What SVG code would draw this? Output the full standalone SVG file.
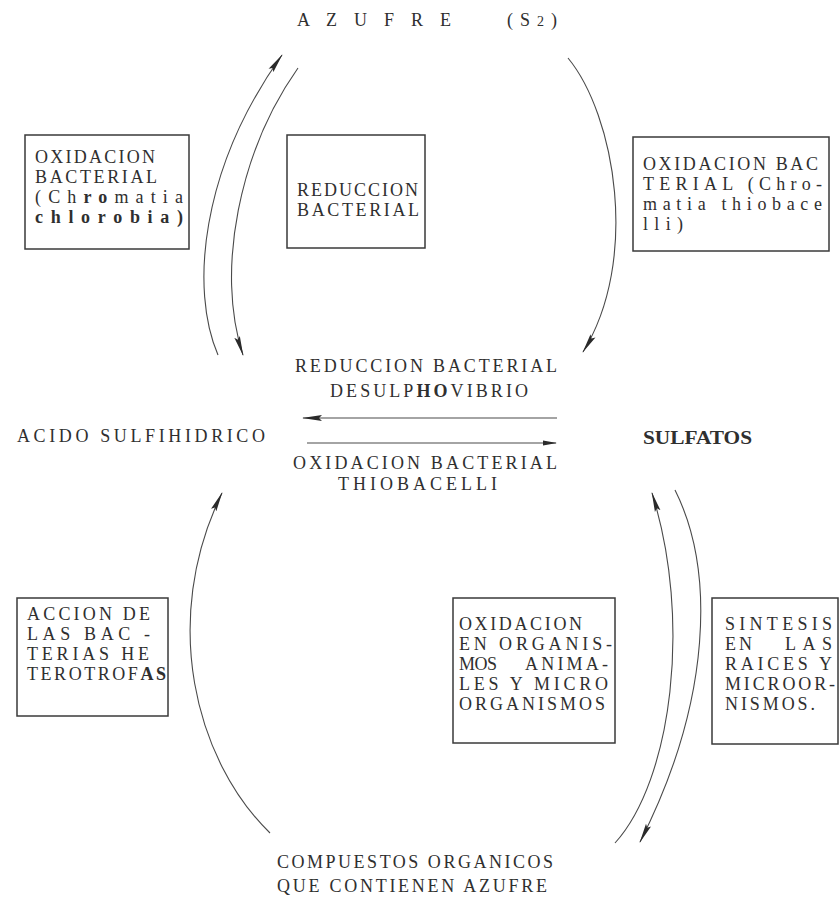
<svg xmlns="http://www.w3.org/2000/svg" width="840" height="911" viewBox="0 0 840 911">
  <style>
    .t { font-family: "Liberation Serif", "Times New Roman", serif; font-size: 18px; fill: #2f2f2f; }
    .b { font-weight: bold; }
    .box { fill: none; stroke: #3a3a3a; stroke-width: 1.5; }
    .arc { fill: none; stroke: #4a4a4a; stroke-width: 1.1; }
  </style>
  <defs>
    <marker id="head" viewBox="0 0 20 7" refX="19" refY="3.5" markerWidth="20" markerHeight="7" markerUnits="userSpaceOnUse" orient="auto">
      <path d="M0,0.6 L20,3.5 L0,6.4 L3,3.5 Z" fill="#2a2a2a"/>
    </marker>
    <marker id="tick" viewBox="0 0 14 6" refX="13" refY="3" markerWidth="14" markerHeight="6" markerUnits="userSpaceOnUse" orient="auto">
      <path d="M0,0.5 L14,3 L0,5.5 Z" fill="#2a2a2a"/>
    </marker>
  </defs>

  <!-- compounds -->
  <g id="azufre">
    <text class="t" x="297" y="26" textLength="154" lengthAdjust="spacing">A Z U F R E</text>
    <text class="t" x="507" y="26" textLength="50" lengthAdjust="spacing">(S<tspan font-size="14">2</tspan>)</text>
  </g>
  <g id="acido">
    <text class="t" x="17" y="442" textLength="248" lengthAdjust="spacing">ACIDO SULFIHIDRICO</text>
  </g>
  <g id="sulfatos">
    <text class="t b" x="643" y="444" textLength="109" lengthAdjust="spacingAndGlyphs">SULFATOS</text>
  </g>
  <g id="compuestos">
    <text class="t" x="277" y="868" textLength="276" lengthAdjust="spacing">COMPUESTOS ORGANICOS</text>
    <text class="t" x="277" y="892" textLength="270" lengthAdjust="spacing">QUE CONTIENEN AZUFRE</text>
  </g>

  <!-- process labels in boxes -->
  <g id="box-oxidacion-chlorobia">
    <rect class="box" x="25" y="135" width="164" height="114"/>
    <text class="t" x="35" y="163" textLength="120" lengthAdjust="spacing">OXIDACION</text>
    <text class="t" x="35" y="183" textLength="122" lengthAdjust="spacing">BACTERIAL</text>
    <text class="t" x="35" y="203" textLength="148" lengthAdjust="spacing">(Ch<tspan class="b">ro</tspan>matia</text>
    <text class="t b" x="35" y="223" textLength="148" lengthAdjust="spacing">chlorobia)</text>
  </g>
  <g id="box-reduccion">
    <rect class="box" x="287" y="135" width="138" height="113"/>
    <text class="t" x="297" y="196" textLength="121" lengthAdjust="spacing">REDUCCION</text>
    <text class="t" x="297" y="216" textLength="122" lengthAdjust="spacing">BACTERIAL</text>
  </g>
  <g id="box-oxidacion-thiobacelli">
    <rect class="box" x="633" y="137" width="196" height="114"/>
    <text class="t" x="643" y="170" textLength="175" lengthAdjust="spacing">OXIDACION BAC</text>
    <text class="t" x="643" y="190" textLength="179" lengthAdjust="spacing">TERIAL (Chro-</text>
    <text class="t" x="643" y="210" textLength="179" lengthAdjust="spacing">matia thiobace</text>
    <text class="t" x="643" y="230" textLength="40" lengthAdjust="spacing">lli)</text>
  </g>
  <g id="box-heterotrofas">
    <rect class="box" x="17" y="598" width="151" height="118"/>
    <text class="t" x="27" y="620" textLength="123" lengthAdjust="spacing">ACCION DE</text>
    <text class="t" x="27" y="640" textLength="123" lengthAdjust="spacing">LAS BAC -</text>
    <text class="t" x="27" y="660" textLength="122" lengthAdjust="spacing">TERIAS HE</text>
    <text class="t" x="27" y="680" textLength="139" lengthAdjust="spacing">TEROTROF<tspan class="b">AS</tspan></text>
  </g>
  <g id="box-oxidacion-organismos">
    <rect class="box" x="453" y="598" width="162" height="145"/>
    <text class="t" x="459" y="630" textLength="123" lengthAdjust="spacing">OXIDACION</text>
    <text class="t" x="459" y="650" textLength="153" lengthAdjust="spacing">EN ORGANIS-</text>
    <text class="t" x="459" y="670" textLength="38" lengthAdjust="spacing">MOS</text>
    <text class="t" x="525" y="670" textLength="83" lengthAdjust="spacing">ANIMA-</text>
    <text class="t" x="459" y="690" textLength="149" lengthAdjust="spacing">LES Y MICRO</text>
    <text class="t" x="459" y="710" textLength="146" lengthAdjust="spacing">ORGANISMOS</text>
  </g>
  <g id="box-sintesis">
    <rect class="box" x="712" y="598" width="126" height="146"/>
    <text class="t" x="725" y="630" textLength="107" lengthAdjust="spacing">SINTESIS</text>
    <text class="t" x="725" y="650" textLength="27" lengthAdjust="spacing">EN</text>
    <text class="t" x="785" y="650" textLength="47" lengthAdjust="spacing">LAS</text>
    <text class="t" x="725" y="670" textLength="107" lengthAdjust="spacing">RAICES Y</text>
    <text class="t" x="725" y="690" textLength="110" lengthAdjust="spacing">MICROOR-</text>
    <text class="t" x="725" y="710" textLength="90" lengthAdjust="spacing">NISMOS.</text>
  </g>

  <!-- labels of the horizontal exchange -->
  <g id="label-desulphovibrio">
    <text class="t" x="295" y="372" textLength="262" lengthAdjust="spacing">REDUCCION BACTERIAL</text>
    <text class="t" x="330" y="397" textLength="198" lengthAdjust="spacing">DESULP<tspan class="b">HO</tspan>VIBRIO</text>
  </g>
  <g id="label-thiobacelli">
    <text class="t" x="293" y="469" textLength="264" lengthAdjust="spacing">OXIDACION BACTERIAL</text>
    <text class="t" x="338" y="490" textLength="159" lengthAdjust="spacing">THIOBACELLI</text>
  </g>

  <!-- connectors -->
  <g id="connectors">
    <!-- sulfatos to acido sulfihidrico, and back -->
    <path class="arc" d="M557,418 L303,418" marker-end="url(#head)"/>
    <path class="arc" d="M307,443 L556,443" marker-end="url(#tick)"/>
    <!-- acido sulfihidrico to azufre -->
    <path class="arc" d="M218,355 C190,290 200,170 282,55" marker-end="url(#head)"/>
    <!-- azufre to acido sulfihidrico -->
    <path class="arc" d="M298,68 C240,150 215,270 243,355" marker-end="url(#head)"/>
    <!-- azufre to sulfatos -->
    <path class="arc" d="M568,58 C615,115 640,260 583,352" marker-end="url(#head)"/>
    <!-- compuestos to acido sulfihidrico -->
    <path class="arc" d="M270,833 C195,760 160,620 222,493" marker-end="url(#head)"/>
    <!-- compuestos to sulfatos -->
    <path class="arc" d="M615,843 C672,780 692,620 652,493" marker-end="url(#head)"/>
    <!-- sulfatos to compuestos -->
    <path class="arc" d="M675,490 C715,570 712,700 640,842" marker-end="url(#head)"/>
  </g>
</svg>
